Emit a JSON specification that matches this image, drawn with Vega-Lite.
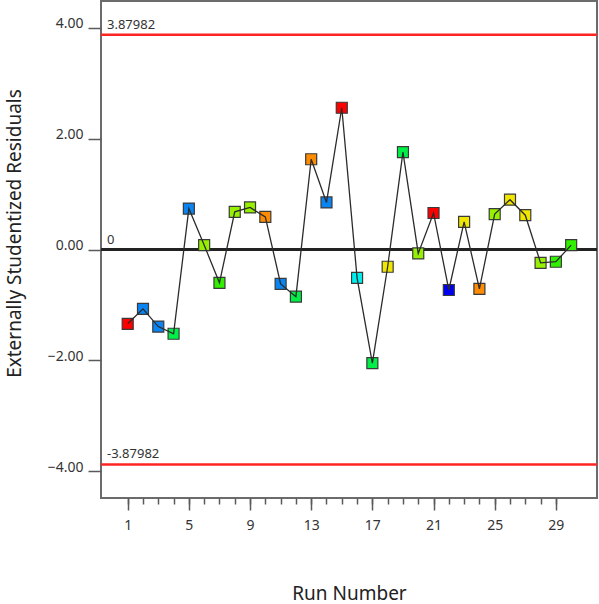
{
  "$schema": "https://vega.github.io/schema/vega-lite/v6.json",
  "width": 496,
  "height": 497,
  "autosize": "none",
  "padding": {"left": 101, "top": 1, "right": 2, "bottom": 106},
  "config": {
    "view": {"stroke": "#6b6b6b", "strokeWidth": 2},
    "font": "Noto Sans",
    "axis": {"grid": false, "domain": false, "tickColor": "#5a5a5a", "tickWidth": 1.5, "labelColor": "#333333", "labelFontSize": 14, "titleFontWeight": "normal", "titleColor": "#222222"}
  },
  "datasets": {
    "runs": [
      {"run": 1, "resid": -1.34, "level": "red"},
      {"run": 2, "resid": -1.07, "level": "blue"},
      {"run": 3, "resid": -1.39, "level": "blue"},
      {"run": 4, "resid": -1.52, "level": "green"},
      {"run": 5, "resid": 0.74, "level": "blue"},
      {"run": 6, "resid": 0.08, "level": "yellowgreen"},
      {"run": 7, "resid": -0.6, "level": "green2"},
      {"run": 8, "resid": 0.68, "level": "yellowgreen"},
      {"run": 9, "resid": 0.76, "level": "yellowgreen"},
      {"run": 10, "resid": 0.59, "level": "orange"},
      {"run": 11, "resid": -0.62, "level": "blue"},
      {"run": 12, "resid": -0.85, "level": "green"},
      {"run": 13, "resid": 1.63, "level": "orange"},
      {"run": 14, "resid": 0.85, "level": "blue"},
      {"run": 15, "resid": 2.56, "level": "red"},
      {"run": 16, "resid": -0.51, "level": "cyan"},
      {"run": 17, "resid": -2.05, "level": "green"},
      {"run": 18, "resid": -0.31, "level": "yellow"},
      {"run": 19, "resid": 1.76, "level": "green"},
      {"run": 20, "resid": -0.07, "level": "yellowgreen"},
      {"run": 21, "resid": 0.66, "level": "red"},
      {"run": 22, "resid": -0.73, "level": "darkblue"},
      {"run": 23, "resid": 0.5, "level": "yellow"},
      {"run": 24, "resid": -0.71, "level": "orange"},
      {"run": 25, "resid": 0.64, "level": "yellowgreen"},
      {"run": 26, "resid": 0.9, "level": "yellow"},
      {"run": 27, "resid": 0.62, "level": "yellow"},
      {"run": 28, "resid": -0.24, "level": "yellowgreen"},
      {"run": 29, "resid": -0.22, "level": "green2"},
      {"run": 30, "resid": 0.08, "level": "green2"}
    ],
    "limits": [
      {"label": "3.87982", "value": 3.87982},
      {"label": "-3.87982", "value": -3.87982}
    ],
    "refs": [
      {"label": "3.87982", "value": 3.87982},
      {"label": "0", "value": 0},
      {"label": "-3.87982", "value": -3.87982}
    ]
  },
  "layer": [
    {
      "data": {"name": "limits"},
      "mark": {"type": "rule", "color": "#ff2424", "strokeWidth": 2.5},
      "encoding": {
        "y": {"field": "value", "type": "quantitative", "scale": {"domain": [-4.485, 4.487], "nice": false, "zero": false},
          "axis": {"orient": "left", "values": [-4, -2, 0, 2, 4], "format": ".2f", "tickSize": 13, "labelPadding": 5, "labelBaseline": "alphabetic", "title": "Externally Studentized Residuals", "titleFontSize": 19, "titleX": -87, "titleY": 232, "titleBaseline": "middle", "titleAlign": "center", "titleAngle": -90}}
      }
    },
    {
      "data": {"values": [{"value": 0}]},
      "mark": {"type": "rule", "color": "#222222", "strokeWidth": 3},
      "encoding": {
        "y": {"field": "value", "type": "quantitative"}
      }
    },
    {
      "data": {"name": "refs"},
      "mark": {"type": "text", "align": "left", "baseline": "alphabetic", "dx": 6, "dy": -6, "fontSize": 13, "color": "#333333"},
      "encoding": {
        "x": {"datum": -0.746, "type": "quantitative", "axis": null},
        "y": {"field": "value", "type": "quantitative"},
        "text": {"field": "label"}
      }
    },
    {
      "data": {"name": "runs"},
      "mark": {"type": "square", "size": 121, "filled": true, "opacity": 1, "stroke": "#3a3a3a", "strokeWidth": 1.2},
      "encoding": {
        "x": {"field": "run", "type": "quantitative", "scale": {"domain": [-0.746, 31.69], "nice": false, "zero": false},
          "axis": {"orient": "bottom", "values": [1, 5, 9, 13, 17, 21, 25, 29], "tickSize": 12, "labelPadding": 8, "title": "Run Number", "titleFontSize": 19, "titleY": 95, "titleBaseline": "middle"}},
        "y": {"field": "resid", "type": "quantitative"},
        "color": {"field": "level", "type": "nominal", "legend": null,
          "scale": {"domain": ["red", "orange", "yellow", "yellowgreen", "green2", "green", "cyan", "blue", "darkblue"],
                    "range": ["#ff0000", "#ff8c00", "#f0e600", "#96f000", "#30f000", "#00f048", "#00f0f0", "#0a84f0", "#0000f0"]}}
      }
    },
    {
      "data": {"name": "runs"},
      "mark": {"type": "line", "color": "#2b2b2b", "strokeWidth": 1.3},
      "encoding": {
        "x": {"field": "run", "type": "quantitative",
          "axis": {"orient": "bottom", "values": [1, 2, 3, 4, 5, 6, 7, 8, 9, 10, 11, 12, 13, 14, 15, 16, 17, 18, 19, 20, 21, 22, 23, 24, 25, 26, 27, 28, 29], "tickSize": 6, "labels": false, "title": null}},
        "y": {"field": "resid", "type": "quantitative"}
      }
    }
  ],
  "resolve": {"axis": {"x": "independent", "y": "shared"}}
}
